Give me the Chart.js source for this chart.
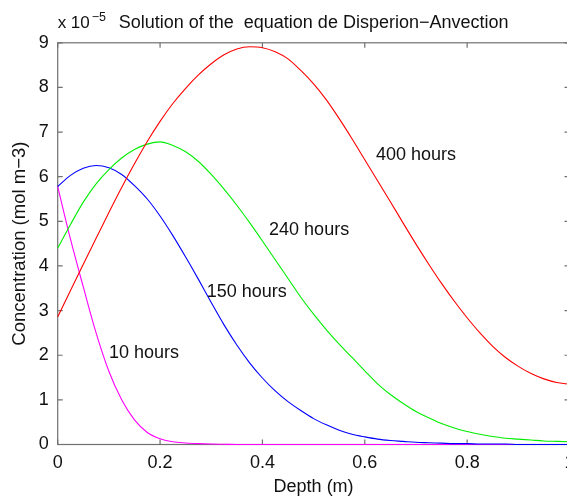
<!DOCTYPE html>
<html><head><meta charset="utf-8">
<style>
html,body{margin:0;padding:0;overflow:hidden;background:#fff;width:567px;height:496px}
#wrap{position:relative;width:600px;height:496px}
</style>
<script src="https://cdn.jsdelivr.net/npm/chart.js@4/dist/chart.umd.min.js"></script>
</head><body><div id="wrap"><canvas id="c" width="600" height="496"></canvas></div>
<script>
// ---- data (concentration in units of 1e-5 mol m-3) ----
const depth = [0,0.025,0.05,0.075,0.1,0.125,0.15,0.175,0.2,0.225,0.25,0.275,0.3,0.325,0.35,0.375,0.4,0.425,0.45,0.475,
               0.5,0.525,0.55,0.575,0.6,0.625,0.65,0.675,0.7,0.725,0.75,0.775,0.8,0.825,0.85,0.875,0.9,0.925,0.95,0.975,1];
const h400 = [2.86,3.45,4.04,4.62,5.2,5.76,6.29,6.79,7.24,7.64,7.98,8.28,8.53,8.73,8.86,8.91,8.89,8.8,8.64,8.38,
              8.08,7.72,7.3,6.85,6.38,5.91,5.44,4.96,4.49,4.04,3.61,3.21,2.84,2.5,2.2,1.95,1.75,1.59,1.47,1.39,1.35];
const h240 = [4.40,4.93,5.43,5.84,6.16,6.42,6.61,6.73,6.78,6.70,6.56,6.34,6.05,5.72,5.36,4.97,4.56,4.14,3.72,3.30,
              2.92,2.57,2.25,1.95,1.65,1.36,1.12,0.92,0.74,0.6,0.47,0.37,0.29,0.23,0.18,0.14,0.12,0.1,0.08,0.07,0.06];
const h150 = [5.78,6.03,6.19,6.25,6.2,6.05,5.8,5.5,5.12,4.68,4.2,3.7,3.18,2.68,2.23,1.83,1.49,1.2,0.96,0.76,
              0.58,0.44,0.32,0.23,0.17,0.12,0.09,0.07,0.05,0.04,0.03,0.02,0.02,0.01,0.01,0.01,0,0,0,0,0];
const h10 = [5.78,4.6,3.53,2.5,1.64,1.0,0.55,0.27,0.13,0.06,0.035,0.02,0.01,0.005,0,0,0,0,0,0,
             0,0,0,0,0,0,0,0,0,0,0,0,0,0,0,0,0,0,0,0,0];
const xTicks = [0,0.2,0.4,0.6,0.8,1];
const yTicks = [0,1,2,3,4,5,6,7,8,9];
const seriesNames = ['400 hours','240 hours','150 hours','10 hours'];
const titleText = 'Solution of the  equation de Disperion\u2212Anvection';
const xTitle = 'Depth (m)';
const yTitle = 'Concentration (mol m\u22123)';

// label anchors (data coords, left edge / vertical centre)
const labelAnchors = [[0.622,6.49],[0.413,4.81],[0.291,3.42],[0.1,2.05]];

const FONT = '"Liberation Sans", Arial, Helvetica, sans-serif';
const pts = (xs, ys) => xs.map((x,i)=>({x:x,y:ys[i]}));

function ds(name, xs, ys, color){
  return {label:name, data:pts(xs,ys), borderColor:color, backgroundColor:color,
    borderWidth:1.1, pointRadius:0, fill:false, cubicInterpolationMode:'monotone', clip:false};
}

const boxPlugin = {
  id:'box',
  beforeDatasetsDraw(chart){
    const {ctx, chartArea:a, scales:{x,y}} = chart;
    ctx.save();
    ctx.strokeStyle = '#707070'; ctx.lineWidth = 1.2;
    ctx.strokeRect(a.left, a.top, a.right-a.left, a.bottom-a.top);
    ctx.beginPath();
    xTicks.forEach(v=>{ const p=x.getPixelForValue(v);
      ctx.moveTo(p,a.bottom); ctx.lineTo(p,a.bottom-5);
      ctx.moveTo(p,a.top); ctx.lineTo(p,a.top+5); });
    yTicks.forEach(v=>{ const p=y.getPixelForValue(v);
      ctx.moveTo(a.left,p); ctx.lineTo(a.left+5,p);
      ctx.moveTo(a.right,p); ctx.lineTo(a.right-5,p); });
    ctx.stroke();
    ctx.restore();
  },
  afterDraw(chart){
    const {ctx, chartArea:a, scales:{x,y}} = chart;
    ctx.save();
    ctx.fillStyle = '#111';
    ctx.textBaseline = 'alphabetic';
    ctx.font = '18px ' + FONT;
    ctx.textAlign = 'center';
    ctx.fillText(titleText, (a.left+a.right)/2, 28);
    ctx.textAlign = 'left';
    ctx.font = '17px ' + FONT;
    ctx.fillText('x', a.left, 28);
    ctx.fillText('10', a.left + 13, 28);
    ctx.font = '12.5px ' + FONT;
    ctx.fillText('\u22125', a.left + 34, 21);
    ctx.font = '18px ' + FONT;
    ctx.textBaseline = 'middle';
    labelAnchors.forEach((p,i)=>{
      ctx.fillText(seriesNames[i], x.getPixelForValue(p[0]), y.getPixelForValue(p[1]));
    });
    ctx.restore();
  }
};

new Chart(document.getElementById('c'), {
  type:'line',
  data:{datasets:[
    ds(seriesNames[0], depth, h400, '#ff0000'),
    ds(seriesNames[1], depth, h240, '#00ee00'),
    ds(seriesNames[2], depth, h150, '#0000ff'),
    ds(seriesNames[3], depth, h10, '#ff00ff')
  ]},
  options:{
    responsive:false, animation:false, devicePixelRatio:1,
    layout:{padding:{top:42.8, right:30.5, left:0, bottom:0}},
    plugins:{legend:{display:false}, tooltip:{enabled:false}, title:{display:false}},
    scales:{
      x:{type:'linear', min:0, max:1,
        afterBuildTicks(s){ s.ticks = xTicks.map(v=>({value:v})); },
        afterFit(s){ s.height = 51.5; },
        grid:{display:false, drawTicks:false},
        border:{display:false},
        ticks:{padding:8, color:'#111', font:{family:FONT, size:18}, maxRotation:0,
          callback:v=>String(v)},
        title:{display:true, text:xTitle, color:'#111', font:{family:FONT, size:18, lineHeight:1}, padding:{top:0,bottom:0}}
      },
      y:{type:'linear', min:0, max:9,
        afterBuildTicks(s){ s.ticks = yTicks.map(v=>({value:v})); },
        afterFit(s){ s.width = 57.7; },
        grid:{display:false, drawTicks:false},
        border:{display:false},
        ticks:{padding:9, color:'#111', font:{family:FONT, size:18}, callback:v=>String(v)},
        title:{display:true, text:yTitle, color:'#111', font:{family:FONT, size:18.5, lineHeight:1}, padding:{top:11,bottom:0}}
      }
    }
  },
  plugins:[boxPlugin]
});
</script>
</body></html>
